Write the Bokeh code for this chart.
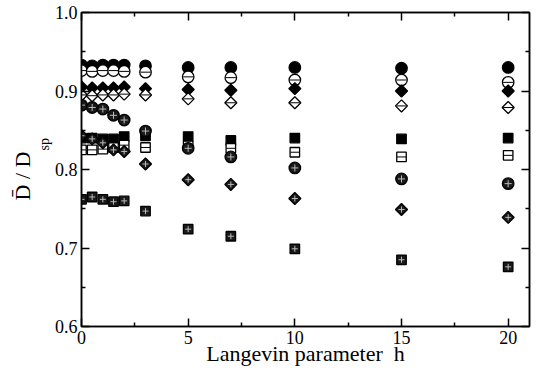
import math
from bokeh.plotting import figure
from bokeh.models import FixedTicker, LinearAxis, Range1d, Title, NumeralTickFormatter, ColumnDataSource
from bokeh.embed import file_html
from bokeh.resources import INLINE

# ---- data ----
h = [0, 0.5, 1, 1.5, 2, 3, 5, 7, 10, 15, 20]
filled_circle = [0.933, 0.932, 0.933, 0.933, 0.933, 0.932, 0.930, 0.930, 0.930, 0.929, 0.930]
open_circle = [0.926, 0.925, 0.926, 0.926, 0.925, 0.924, 0.918, 0.917, 0.914, 0.914, 0.911]
filled_diamond = [0.905, 0.904, 0.904, 0.904, 0.905, 0.903, 0.902, 0.901, 0.903, 0.900, 0.900]
open_diamond = [0.895, 0.894, 0.895, 0.895, 0.896, 0.895, 0.890, 0.885, 0.885, 0.881, 0.879]
filled_square = [0.840, 0.840, 0.839, 0.839, 0.842, 0.843, 0.842, 0.837, 0.840, 0.839, 0.840]
open_square = [0.825, 0.825, 0.826, 0.828, 0.831, 0.828, 0.830, 0.827, 0.822, 0.816, 0.818]
pattern_circle = [0.882, 0.879, 0.877, 0.869, 0.863, 0.849, 0.827, 0.816, 0.802, 0.788, 0.782]
pattern_diamond = [0.843, 0.839, 0.834, 0.825, 0.823, 0.807, 0.787, 0.781, 0.763, 0.749, 0.739]
pattern_square = [0.762, 0.765, 0.762, 0.759, 0.760, 0.747, 0.724, 0.715, 0.699, 0.685, 0.676]

x_major = [0, 5, 10, 15, 20]
x_minor = [2.5, 7.5, 12.5, 17.5]
y_major = [0.6, 0.7, 0.8, 0.9, 1.0]
y_minor = [0.65, 0.75, 0.85, 0.95]

x_label = "Langevin parameter \u00a0h"
y_label_main = "D\u0304 / D"
y_label_sub = "sp"

FONT = "'Liberation Serif', 'Times New Roman', serif"

p = figure(width=536, height=370, output_backend="svg", toolbar_location=None,
           x_range=Range1d(0, 21), y_range=Range1d(0.6, 1.0),
           min_border_left=81, min_border_right=7, min_border_top=12, min_border_bottom=44)
p.grid.visible = False
p.outline_line_color = "black"
p.outline_line_width = 1.5
p.background_fill_color = "white"
p.border_fill_color = "white"

xt = FixedTicker(ticks=x_major, minor_ticks=x_minor)
yt = FixedTicker(ticks=y_major, minor_ticks=y_minor)

def style_axis(ax, show_labels):
    ax.axis_line_color = "black"
    ax.axis_line_width = 1.5
    ax.major_tick_in = 8
    ax.major_tick_out = 0
    ax.minor_tick_in = 4
    ax.minor_tick_out = 0
    ax.major_tick_line_color = "black"
    ax.minor_tick_line_color = "black"
    ax.major_tick_line_width = 1.5
    ax.minor_tick_line_width = 1.5
    ax.major_label_text_font = FONT
    if show_labels:
        ax.major_label_text_color = "black"
        ax.major_label_text_font_size = "18px"
        ax.major_label_standoff = 4
    else:
        ax.major_label_text_color = None
        ax.major_label_text_font_size = "1px"
        ax.major_label_standoff = 0

p.xaxis.ticker = xt
p.yaxis.ticker = yt
p.yaxis.formatter = NumeralTickFormatter(format="0.0")
for ax in p.xaxis + p.yaxis:
    style_axis(ax, True)

p.xaxis.axis_label = x_label
p.xaxis.axis_label_text_font = FONT
p.xaxis.axis_label_text_font_size = "22px"
p.xaxis.axis_label_text_font_style = "normal"
p.xaxis.axis_label_text_color = "black"
p.xaxis.axis_label_standoff = -6

top = LinearAxis(ticker=xt)
right = LinearAxis(ticker=yt)
style_axis(top, False)
style_axis(right, False)
p.add_layout(top, "above")
p.add_layout(right, "right")

# y-axis title: main part plus subscript, as two side titles
# (align="left" on a left panel: text starts `offset` px above the panel's bottom)
t_sub = Title(text=y_label_sub, text_font=FONT, text_font_size="14px", text_font_style="normal",
              text_color="black", align="left", offset=176, standoff=0)
t_main = Title(text=y_label_main, text_font=FONT, text_font_size="22px", text_font_style="normal",
               text_color="black", align="left", offset=126, standoff=0)
p.add_layout(t_sub, "left")
p.add_layout(t_main, "left")

def marks(y, marker, size, fill, line="black", angle=0.0, inner=None, inner_size=None, inner_color="black"):
    src = ColumnDataSource(dict(x=h, y=y))
    p.scatter("x", "y", source=src, marker=marker, size=size, angle=angle,
              fill_color=fill, line_color=line, line_width=1.3)
    if inner:
        p.scatter("x", "y", source=src, marker=inner, size=inner_size or size,
                  line_color=inner_color, line_width=1.0)

rot = math.pi / 4
marks(filled_circle, "circle", 11.5, "black")
marks(open_circle, "circle", 11.5, "white", inner="dash", inner_size=10)
marks(filled_diamond, "square", 8.5, "black", angle=rot)
marks(open_diamond, "square", 8.5, "white", angle=rot, inner="dash", inner_size=10)
marks(filled_square, "square", 9.5, "black")
marks(open_square, "square", 9.5, "white", inner="dash", inner_size=9)
marks(pattern_circle, "circle", 11.5, "#1a1a1a", inner="cross", inner_size=7, inner_color="#bbbbbb")
marks(pattern_diamond, "square", 8.5, "#1a1a1a", angle=rot, inner="cross", inner_size=6, inner_color="#bbbbbb")
marks(pattern_square, "square", 9.5, "#1a1a1a", inner="cross", inner_size=6, inner_color="#bbbbbb")

open("out.html", "w").write(file_html(p, INLINE))
